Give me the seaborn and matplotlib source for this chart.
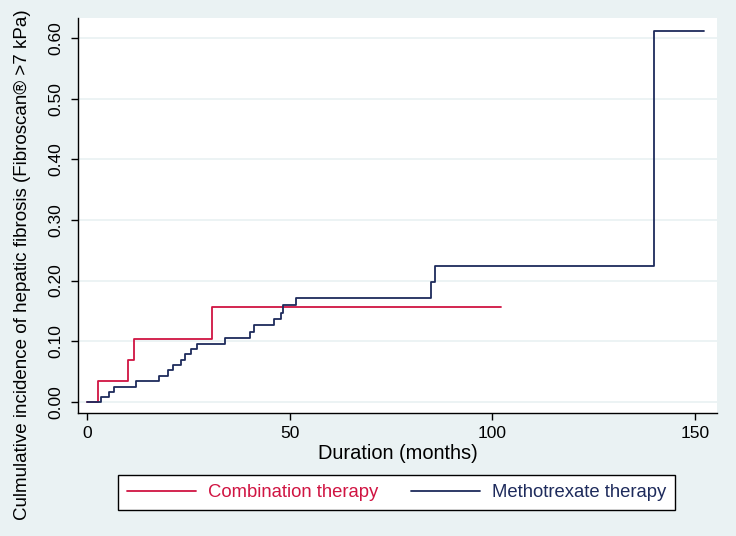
import pandas as pd
import matplotlib
matplotlib.use("Agg")
import matplotlib.pyplot as plt
import seaborn as sns

# step times (months) and cumulative incidence
combo_time = [0, 2.7, 10.1, 11.4, 30.8, 102.2]
combo_cif = [0, 0.0345, 0.069, 0.1035, 0.157, 0.157]

mtx_time = [0, 3.4, 5.3, 6.7, 12.0, 17.8, 19.8, 21.1, 23.0, 24.2, 25.6, 27.0,
            34.0, 40.1, 41.1, 46.0, 47.7, 48.2, 51.5, 84.9, 85.7, 139.8, 152.3]
mtx_cif = [0, 0.0083, 0.0165, 0.0247, 0.034, 0.042, 0.052, 0.060, 0.069, 0.0786,
           0.087, 0.096, 0.105, 0.115, 0.126, 0.136, 0.147, 0.160, 0.172, 0.198,
           0.224, 0.612, 0.612]

groups = ["Combination therapy", "Methotrexate therapy"]
colors = ["#D01442", "#1E2B5C"]
x_ticks = [0, 50, 100, 150]
y_ticks = [0.0, 0.1, 0.2, 0.3, 0.4, 0.5, 0.6]

bg = "#EAF2F3"

df = pd.concat([
    pd.DataFrame({"time": combo_time, "cif": combo_cif, "group": groups[0]}),
    pd.DataFrame({"time": mtx_time, "cif": mtx_cif, "group": groups[1]}),
])

sns.set_theme(style="white")
plt.rcParams["font.family"] = ["Liberation Sans", "DejaVu Sans"]

fig = plt.figure(figsize=(7.36, 5.36), dpi=100, facecolor=bg)
ax = fig.add_axes([0.106, 0.229, 0.868, 0.7375])
ax.set_facecolor("white")

sns.lineplot(data=df, x="time", y="cif", hue="group", palette=colors,
             estimator=None, sort=False, drawstyle="steps-post",
             linewidth=1.3, ax=ax, legend=False)

ax.set_xlim(-2.3, 155.4)
ax.set_ylim(-0.019, 0.6335)
ax.set_xticks(x_ticks)
ax.set_yticks(y_ticks)
ax.set_yticklabels([f"{v:.2f}" for v in y_ticks], rotation=90, va="center")
ax.grid(axis="y", color=bg, linewidth=1.3)
ax.set_axisbelow(True)

for s in ["top", "right"]:
    ax.spines[s].set_visible(False)
for s in ["left", "bottom"]:
    ax.spines[s].set_color("black")
    ax.spines[s].set_linewidth(1.0)

ax.tick_params(axis="both", direction="out", length=5, width=1, color="black",
               labelsize=12.5, labelcolor="black", bottom=True, left=True)
ax.tick_params(axis="y", pad=5.5)
ax.tick_params(axis="x", pad=4)

ax.set_xlabel("Duration (months)", fontsize=14.4, labelpad=2, color="black")
ax.set_ylabel("")
# y title sits centred on the whole figure height, not on the axes
fig.text(0.031, 0.507,
         "Culmulative incidence of hepatic fibrosis (Fibroscan\u00ae >7 kPa)",
         rotation=90, ha="center", va="center", fontsize=13.5, color="black")

handles = [plt.Line2D([], [], color=c, linewidth=1.3) for c in colors]
leg = fig.legend(handles, groups, loc="center", bbox_to_anchor=(0.5387, 0.081),
                 ncol=2, fontsize=13.3, frameon=True, fancybox=False,
                 framealpha=1, edgecolor="black", facecolor="white",
                 handlelength=3.73, handletextpad=0.65, columnspacing=1.75,
                 borderpad=0.5, labelcolor="linecolor")
leg.get_frame().set_linewidth(1.0)

fig.savefig("out.png", dpi=100, facecolor=bg)
